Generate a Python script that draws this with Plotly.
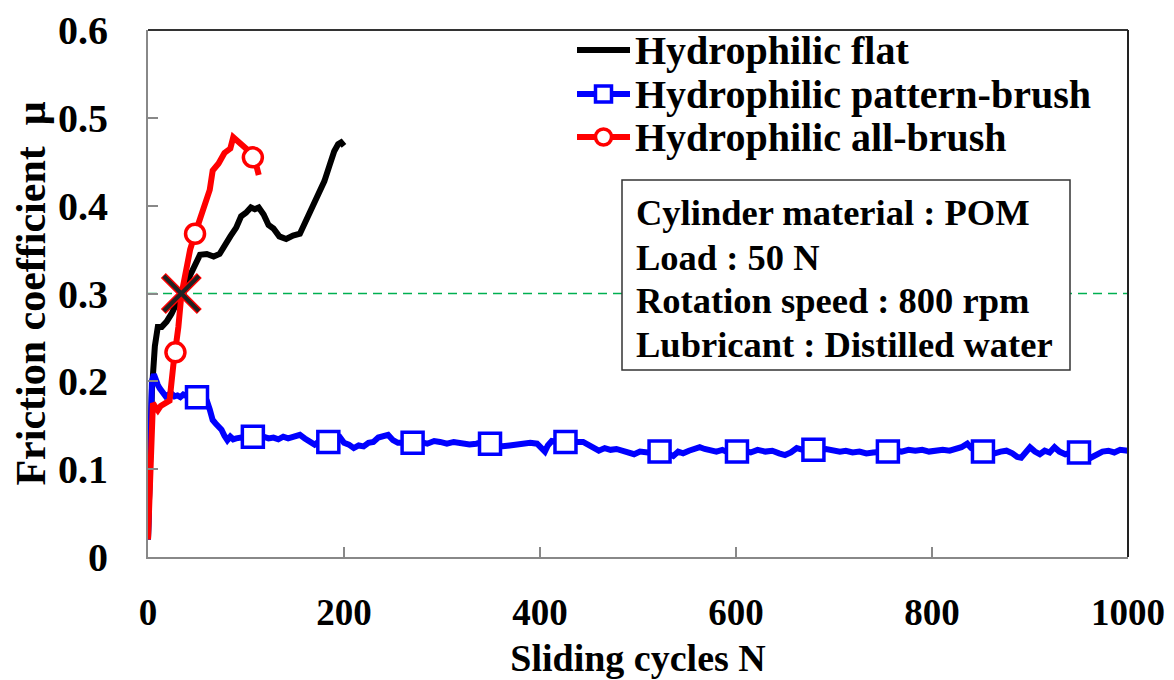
import plotly.graph_objects as go

# ---------------- data ----------------
flat_x = [0, 2, 4, 7, 10, 14, 19, 24, 29, 33, 38, 43, 48, 53, 60, 67, 73, 78, 84, 90,
          95, 100, 105, 109, 113, 118, 123, 128, 134, 141, 148, 155, 160, 165, 170, 175,
          180, 185, 190, 194, 197, 200]
flat_y = [0.02, 0.13, 0.19, 0.24, 0.262, 0.262, 0.268, 0.277, 0.288, 0.298, 0.31, 0.322,
          0.333, 0.344, 0.345, 0.342, 0.345, 0.355, 0.365, 0.375, 0.388, 0.392, 0.398,
          0.396, 0.398, 0.39, 0.378, 0.374, 0.365, 0.362, 0.366, 0.368, 0.38, 0.393,
          0.402, 0.415, 0.428, 0.445, 0.462, 0.47, 0.472, 0.468]

allb_x = [0, 3, 5, 8, 10, 13, 17, 22, 26, 28, 31, 34, 38, 43, 48, 53, 58, 63, 66, 72,
          78, 84, 87, 90, 95, 100, 104, 107, 110, 113]
allb_y = [0.02, 0.14, 0.175, 0.17, 0.167, 0.172, 0.175, 0.178, 0.22, 0.233, 0.262, 0.298,
          0.32, 0.35, 0.368, 0.385, 0.405, 0.418, 0.44, 0.448, 0.46, 0.465, 0.478, 0.475,
          0.472, 0.465, 0.458, 0.455, 0.448, 0.435]
allb_marker_x = [28, 48, 107]

pb_x = [0, 2, 4, 6, 8, 10, 12, 15, 18, 21, 24, 27, 30, 33, 36, 40, 45, 50, 55, 60, 63, 66,
        69, 72, 75, 78, 81, 84, 87, 90, 95, 100, 107, 113, 118, 123, 128, 133, 138, 143,
        148, 155, 160, 165, 170, 175, 184, 190, 196, 200, 205, 210, 215, 220, 225, 230,
        235, 240, 245, 250, 255, 262, 270, 278, 285, 292, 298, 305, 312, 320, 328, 335,
        342, 349, 356, 362, 369, 376, 383, 390, 397, 402, 405, 408, 412, 418, 426, 432,
        438, 444, 449, 455, 460, 466, 472, 478, 484, 490, 496, 502, 510, 516, 522, 530,
        536, 541, 546, 552, 558, 563, 568, 574, 580, 586, 592, 601, 608, 615, 622, 630,
        637, 644, 650, 656, 662, 668, 679, 686, 692, 699, 706, 712, 719, 726, 733, 740,
        748, 755, 762, 769, 776, 783, 790, 797, 804, 811, 818, 824, 830, 836, 840, 846,
        852, 858, 864, 870, 876, 882, 887, 891, 896, 900, 905, 910, 915, 920, 925, 930,
        936, 943, 950, 956, 962, 968, 974, 980, 986, 992, 1000]
pb_y = [0.02, 0.15, 0.2, 0.208, 0.2, 0.196, 0.192, 0.186, 0.183, 0.185, 0.186, 0.183,
        0.184, 0.182, 0.185, 0.183, 0.182, 0.182, 0.182, 0.178, 0.168, 0.156, 0.152, 0.148,
        0.145, 0.138, 0.133, 0.137, 0.134, 0.135, 0.136, 0.135, 0.137, 0.134, 0.137, 0.135,
        0.136, 0.134, 0.137, 0.135, 0.137, 0.139, 0.135, 0.131, 0.128, 0.132, 0.131, 0.132,
        0.136, 0.13, 0.128, 0.124, 0.127, 0.126, 0.13, 0.131, 0.136, 0.138, 0.139, 0.133,
        0.13, 0.13, 0.13, 0.131, 0.129, 0.132, 0.131, 0.129, 0.131, 0.13, 0.128, 0.129,
        0.131, 0.129, 0.128, 0.126, 0.127, 0.128, 0.129, 0.13, 0.129, 0.124, 0.12, 0.127,
        0.132, 0.131, 0.131, 0.129, 0.131, 0.131, 0.128, 0.124, 0.121, 0.124, 0.122, 0.123,
        0.121, 0.12, 0.117, 0.12, 0.119, 0.12, 0.12, 0.118, 0.115, 0.12, 0.118, 0.121,
        0.123, 0.125, 0.123, 0.121, 0.12, 0.122, 0.119, 0.12, 0.121, 0.119, 0.122, 0.12,
        0.121, 0.118, 0.116, 0.119, 0.124, 0.122, 0.122, 0.121, 0.123, 0.122, 0.12, 0.121,
        0.119, 0.12, 0.118, 0.119, 0.12, 0.12, 0.121, 0.12, 0.122, 0.121, 0.122, 0.12,
        0.121, 0.122, 0.121, 0.123, 0.125, 0.129, 0.124, 0.121, 0.12, 0.121, 0.118, 0.12,
        0.121, 0.118, 0.114, 0.113, 0.12, 0.125, 0.12, 0.117, 0.121, 0.119, 0.125, 0.12,
        0.117, 0.119, 0.119, 0.117, 0.113, 0.116, 0.12, 0.121, 0.119, 0.122, 0.121]
pb_marker_x = [50, 107, 184, 270, 349, 426, 522, 601, 679, 755, 852, 950]

critical_x = [34]
critical_y = [0.3]
threshold_mu = 0.3

x_ticks = [0, 200, 400, 600, 800, 1000]
y_ticks = [0, 0.1, 0.2, 0.3, 0.4, 0.5, 0.6]
y_tick_text = ["0", "0.1", "0.2", "0.3", "0.4", "0.5", "0.6"]

names = ["Hydrophilic flat", "Hydrophilic pattern-brush", "Hydrophilic all-brush"]
conditions = ["Cylinder material : POM", "Load : 50 N",
              "Rotation speed : 800 rpm", "Lubricant : Distilled water"]

# ---------------- layout helpers (page pixel -> paper) ----------------
W, H = 1174, 680
OFF = 8                      # page body margin
L, R, T, B = 140, 54, 22, 131
PW, PH = W - L - R, H - T - B
X0_PAGE, Y0_PAGE = L + OFF, H - B + OFF   # page pixel of plot-area left / bottom


def px(xp):
    return (xp - X0_PAGE) / PW


def py(yp):
    return (Y0_PAGE - yp) / PH


FONT = "Liberation Serif"
BLACK, BLUE, RED = "#000000", "#0000ff", "#ff0000"
LW = 6


def bold(size):
    return dict(family=FONT, size=size, color="black", weight="bold")


pb_lookup = dict(zip(pb_x, pb_y))
allb_lookup = dict(zip(allb_x, allb_y))

fig = go.Figure()

fig.add_trace(go.Scatter(x=flat_x, y=flat_y, mode="lines", name=names[0],
                         line=dict(color=BLACK, width=LW)))
fig.add_trace(go.Scatter(x=pb_x, y=pb_y, mode="lines", name=names[1],
                         line=dict(color=BLUE, width=LW)))
fig.add_trace(go.Scatter(x=pb_marker_x, y=[pb_lookup[v] for v in pb_marker_x], mode="markers",
                         name=names[1],
                         marker=dict(symbol="square", size=21, color="white",
                                     line=dict(color=BLUE, width=3.5))))
fig.add_trace(go.Scatter(x=allb_x, y=allb_y, mode="lines", name=names[2],
                         line=dict(color=RED, width=LW)))
fig.add_trace(go.Scatter(x=allb_marker_x, y=[allb_lookup[v] for v in allb_marker_x],
                         mode="markers", name=names[2],
                         marker=dict(symbol="circle", size=19, color="white",
                                     line=dict(color=RED, width=3.5))))
fig.add_trace(go.Scatter(x=critical_x, y=critical_y, mode="markers",
                         marker=dict(symbol="x-thin", size=36,
                                     line=dict(color=RED, width=7))))
fig.add_trace(go.Scatter(x=critical_x, y=critical_y, mode="markers",
                         marker=dict(symbol="x-thin", size=35,
                                     line=dict(color="#222222", width=4))))

# threshold dashed line
fig.add_shape(type="line", xref="x", yref="y", x0=0, x1=1000,
              y0=threshold_mu, y1=threshold_mu,
              line=dict(color="#00b050", width=1.5, dash="9px,6px"), layer="below")
# top/right frame
fig.add_shape(type="line", xref="paper", yref="paper", x0=0, x1=1, y0=1, y1=1,
              line=dict(color="#333333", width=2))
fig.add_shape(type="line", xref="paper", yref="paper", x0=1, x1=1, y0=0, y1=1,
              line=dict(color="#222222", width=2))

# ---- legend (drawn manually for tight line spacing) ----
leg_y = [50, 94, 137]
leg_colors = [BLACK, BLUE, RED]
leg_symbols = [None, "rect", "circle"]
for name, yy, col, sym in zip(names, leg_y, leg_colors, leg_symbols):
    fig.add_shape(type="line", xref="paper", yref="paper",
                  x0=px(577), x1=px(630), y0=py(yy), y1=py(yy),
                  line=dict(color=col, width=LW))
    if sym is not None:
        fig.add_shape(type=sym, xref="paper", yref="paper",
                      xsizemode="pixel", ysizemode="pixel",
                      xanchor=px(603.5), yanchor=py(yy),
                      x0=-8, x1=8, y0=-8, y1=8,
                      fillcolor="white", line=dict(color=col, width=3.5))
    fig.add_annotation(xref="paper", yref="paper", x=px(633), y=py(yy),
                       xanchor="left", yanchor="middle", text=name, showarrow=False,
                       font=bold(40))

# ---- conditions box ----
fig.add_shape(type="rect", xref="paper", yref="paper",
              x0=px(622), x1=px(1070), y0=py(180), y1=py(370),
              fillcolor="white", line=dict(color="#333333", width=1.5), layer="above")
for txt, yy in zip(conditions, [212, 257, 300, 345]):
    fig.add_annotation(xref="paper", yref="paper", x=px(634), y=py(yy),
                       xanchor="left", yanchor="middle", text=txt, showarrow=False,
                       font=bold(36.5))

fig.update_layout(
    width=W, height=H,
    margin=dict(l=L, r=R, t=T, b=B),
    paper_bgcolor="white", plot_bgcolor="white",
    font=bold(34),
    showlegend=False,
    xaxis=dict(range=[0, 1000], tickvals=x_ticks, ticks="inside", ticklen=10,
               tickcolor="#888888", tickwidth=1.5, showline=True, linecolor="#888888",
               linewidth=2, showgrid=False, zeroline=False, ticklabelstandoff=22,
               automargin=False, tickfont=bold(37),
               title=dict(text="Sliding cycles N", standoff=12, font=bold(38))),
    yaxis=dict(range=[0, 0.6], tickvals=y_ticks, ticktext=y_tick_text, ticks="inside",
               ticklen=10, tickcolor="#888888", tickwidth=1.5, showline=True,
               linecolor="#888888", linewidth=2, showgrid=False, zeroline=False,
               ticklabelstandoff=30, automargin=False, tickfont=bold(40),
               title=dict(text="Friction coefficient  μ", standoff=16, font=bold(42))),
)

fig.write_html("out.html")
